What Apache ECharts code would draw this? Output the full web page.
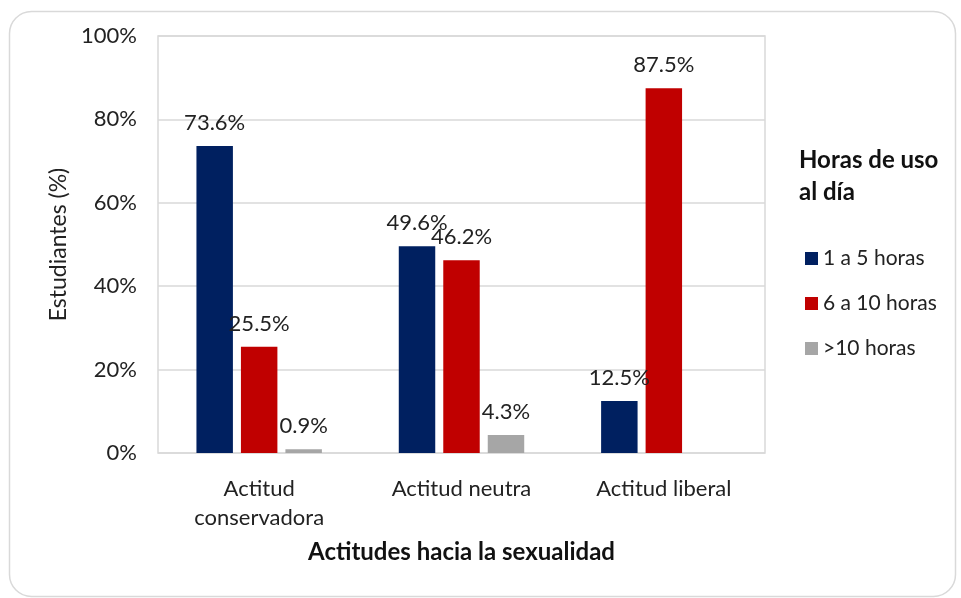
<!DOCTYPE html>
<html>
<head>
<meta charset="utf-8">
<script src="https://cdn.jsdelivr.net/npm/echarts@6/dist/echarts.min.js"></script>
<style>
html,body{margin:0;padding:0;background:#fff;}
#main{width:961px;height:598px;}
</style>
</head>
<body>
<div id="main"></div>
<script>
const categories = ['Actitud\nconservadora', 'Actitud neutra', 'Actitud liberal'];
const seriesNames = ['1 a 5 horas', '6 a 10 horas', '>10 horas'];
const s1 = [73.6, 49.6, 12.5];
const s2 = [25.5, 46.2, 87.5];
const s3 = [0.9, 4.3, null];
const yTicks = [0, 20, 40, 60, 80, 100];
const colors = ['#002060', '#C00000', '#A6A6A6'];

const FONT = 'Lato';
const chart = echarts.init(document.getElementById('main'));
function bar(name, data, color) {
  return {
    name: name, type: 'bar', data: data,
    barGap: '22%', barCategoryGap: '38%',
    itemStyle: { color: color },
    label: {
      show: true, position: 'top', distance: 12,
      formatter: p => p.value == null ? '' : p.value.toFixed(1) + '%',
      fontFamily: FONT, fontSize: 22, color: '#222'
    }
  };
}
chart.setOption({
  animation: false,
  textStyle: { fontFamily: FONT },
  graphic: [{
    type: 'rect', left: 7, top: 9,
    shape: { width: 946, height: 585, r: 22 },
    style: { fill: 'none', stroke: '#d9d9d9', lineWidth: 1.5 }
  }],
  title: {
    text: 'Horas de uso\nal día', left: 799, top: 144, padding: 0,
    textStyle: { fontFamily: FONT, fontSize: 24, fontWeight: 'bold', color: '#111', lineHeight: 32 }
  },
  legend: {
    orient: 'vertical', left: 805, top: 248, itemGap: 24, padding: 0,
    itemWidth: 13, itemHeight: 13, icon: 'rect',
    data: seriesNames,
    textStyle: { fontFamily: FONT, fontSize: 21, color: '#222' }
  },
  grid: {
    left: 158, top: 36, width: 607, height: 417,
    show: true, borderColor: '#d9d9d9', borderWidth: 1.5
  },
  xAxis: {
    type: 'category', data: categories,
    axisLine: { show: false }, axisTick: { show: false },
    axisLabel: { fontFamily: FONT, fontSize: 22, color: '#222', margin: 21, lineHeight: 29, interval: 0 },
    name: 'Actitudes hacia la sexualidad', nameLocation: 'middle', nameGap: 87,
    nameTextStyle: { fontFamily: FONT, fontSize: 24, fontWeight: 'bold', color: '#111' }
  },
  yAxis: {
    type: 'value', min: yTicks[0], max: yTicks[yTicks.length - 1], interval: 20,
    axisLine: { show: false }, axisTick: { show: false },
    axisLabel: { fontFamily: FONT, fontSize: 22, color: '#222', margin: 21, formatter: '{value}%' },
    splitLine: { lineStyle: { color: '#d9d9d9', width: 1.5 } },
    name: 'Estudiantes (%)', nameLocation: 'middle', nameGap: 84,
    nameTextStyle: { fontFamily: FONT, fontSize: 23, color: '#222' }
  },
  series: [bar(seriesNames[0], s1, colors[0]), bar(seriesNames[1], s2, colors[1]), bar(seriesNames[2], s3, colors[2])]
});
</script>
</body>
</html>
